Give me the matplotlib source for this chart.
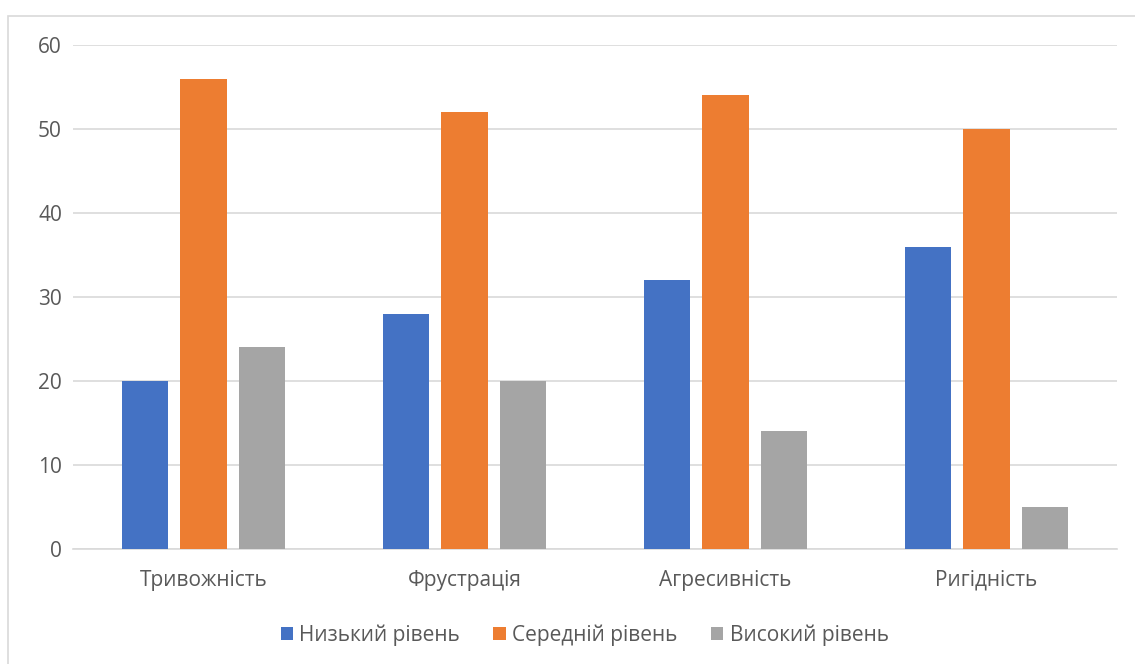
import matplotlib
matplotlib.use("Agg")
import matplotlib.pyplot as plt
import matplotlib.patches as patches
import numpy as np

plt.rcParams['font.family'] = ['Open Sans', 'Noto Sans', 'DejaVu Sans']

categories = ["Тривожність", "Фрустрація", "Агресивність", "Ригідність"]
series_names = ["Низький рівень", "Середній рівень", "Високий рівень"]
low = [20, 28, 32, 36]
mid = [56, 52, 54, 50]
high = [24, 20, 14, 5]
colors = ["#4472C4", "#ED7D31", "#A5A5A5"]
yticks = [0, 10, 20, 30, 40, 50, 60]

W, H = 1135, 664
fig = plt.figure(figsize=(W / 100, H / 100), dpi=100)
# ліва і верхня рамка області діаграми
fig.patches.append(patches.Rectangle((8 / W, -0.1), 1.2, (H - 16) / H + 0.1,
                                     transform=fig.transFigure, fill=False,
                                     edgecolor="#D9D9D9", linewidth=1.2))

ax = fig.add_axes([73 / W, (H - 549) / H, (1117 - 73) / W, (549 - 45) / H])

x = np.arange(len(categories))
width = 0.177
offset = 0.223
for i, (vals, name) in enumerate(zip([low, mid, high], series_names)):
    ax.bar(x + (i - 1) * offset, vals, width, color=colors[i], label=name, zorder=3)

ax.set_xlim(-0.5, len(categories) - 0.5)
ax.set_ylim(0, 60)
ax.set_yticks(yticks)
ax.set_xticks(x)
ax.set_xticklabels(categories)
ax.grid(axis="y", color="#D9D9D9", linewidth=1.2, zorder=0)
for s in ["top", "right", "left"]:
    ax.spines[s].set_visible(False)
ax.spines["bottom"].set_color("#D9D9D9")
ax.spines["bottom"].set_linewidth(1.2)
ax.tick_params(axis="both", length=0, labelsize=15, colors="#595959")
ax.tick_params(axis="y", pad=8)
ax.tick_params(axis="x", pad=15)

leg = ax.legend(loc="upper center", bbox_to_anchor=(0.49, -0.113), ncol=3,
                frameon=False, fontsize=15, handlelength=0.6, handleheight=0.6,
                columnspacing=1.6, handletextpad=0.3)
for t in leg.get_texts():
    t.set_color("#595959")

fig.savefig("out.png", dpi=100)
